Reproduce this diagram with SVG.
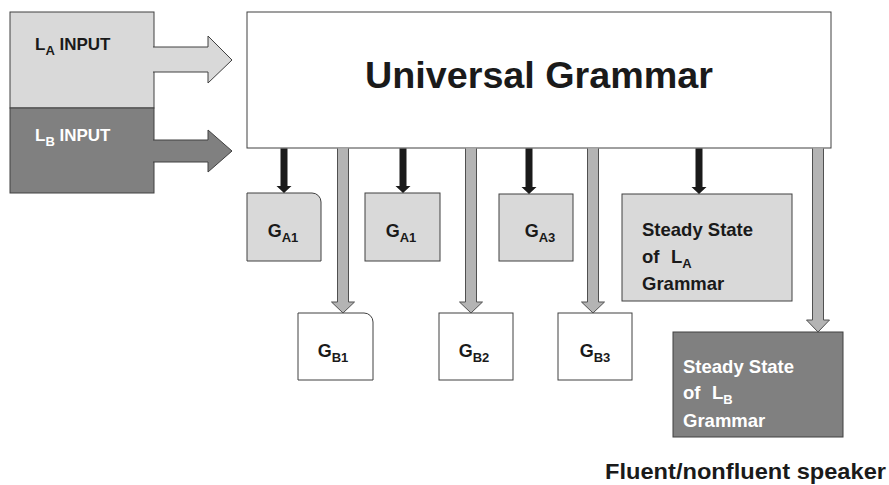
<svg xmlns="http://www.w3.org/2000/svg" width="889" height="485" viewBox="0 0 889 485">
<style>
text{font-family:"Liberation Sans",Arial,sans-serif;font-weight:bold;fill:#1a1a1a}
.w{fill:#ffffff}
.box{stroke:#404040;stroke-width:1}
.lt{fill:#d9d9d9}
.dk{fill:#808080}
.wh{fill:#ffffff}
.ga{fill:#b4b4b4;stroke:#505050;stroke-width:1}
.ba{fill:#1a1a1a}
.g{font-size:18px}
.sub{font-size:13px}
.ss{font-size:18.5px}
</style>
<rect width="889" height="485" fill="#ffffff"/>
<g id="la-input">
<rect class="box lt" x="10" y="12" width="144" height="96"/>
<text x="35" y="50" font-size="17">L<tspan class="sub" dy="5">A</tspan><tspan dy="-5"> INPUT</tspan></text>
</g>
<g id="lb-input">
<rect class="box dk" x="10" y="108" width="144" height="85"/>
<text class="w" x="35" y="141" font-size="17">L<tspan class="sub" dy="5">B</tspan><tspan dy="-5"> INPUT</tspan></text>
</g>
<g id="ug">
<rect class="box wh" x="247" y="12" width="584" height="136"/>
<text x="365" y="88" font-size="36" textLength="348" lengthAdjust="spacingAndGlyphs">Universal Grammar</text>
</g>
<g id="ga1a">
<path class="box lt" d="M247,193 H312 A9,9 0 0 1 321,202 V261 H247 Z"/>
<text class="g" x="283" y="237" text-anchor="middle">G<tspan class="sub" dy="5">A1</tspan></text>
</g>
<g id="ga1b">
<rect class="box lt" x="365" y="193" width="75" height="68"/>
<text class="g" x="401" y="237" text-anchor="middle">G<tspan class="sub" dy="5">A1</tspan></text>
</g>
<g id="ga3">
<rect class="box lt" x="499" y="194" width="74" height="67"/>
<text class="g" x="540" y="237" text-anchor="middle">G<tspan class="sub" dy="5">A3</tspan></text>
</g>
<g id="ssa">
<rect class="box lt" x="622" y="194" width="170" height="107"/>
<text class="ss" x="642" y="236">Steady State</text>
<text class="ss" x="642" y="263">of<tspan x="671">L</tspan><tspan class="sub" dy="5">A</tspan></text>
<text class="ss" x="642" y="290">Grammar</text>
</g>
<g id="gb1">
<path class="box wh" d="M298,313 H364 A9,9 0 0 1 373,322 V380 H298 Z"/>
<text class="g" x="333" y="357" text-anchor="middle">G<tspan class="sub" dy="5">B1</tspan></text>
</g>
<g id="gb2">
<rect class="box wh" x="439" y="313" width="74" height="67"/>
<text class="g" x="474" y="357" text-anchor="middle">G<tspan class="sub" dy="5">B2</tspan></text>
</g>
<g id="gb3">
<rect class="box wh" x="558" y="313" width="74" height="67"/>
<text class="g" x="595" y="357" text-anchor="middle">G<tspan class="sub" dy="5">B3</tspan></text>
</g>
<g id="ssb">
<rect class="box dk" x="673" y="332" width="170" height="105"/>
<text class="ss w" x="683" y="373">Steady State</text>
<text class="ss w" x="683" y="399">of<tspan x="712">L</tspan><tspan class="sub" dy="5">B</tspan></text>
<text class="ss w" x="683" y="427">Grammar</text>
</g>
<g id="connectors">
<path class="lt" stroke="#404040" d="M153,47 H208 V36 L232,60 L208,83 V72 H153"/>
<path class="dk" stroke="#404040" d="M153,140 H208 V130 L232,151 L208,172 V162 H153"/>
<path class="ba" d="M280.5,148.5 H287.5 V186 H291.5 L284,193 L276.5,186 H280.5 Z"/>
<path class="ba" d="M399.5,148.5 H406.5 V186 H410.5 L403,193 L395.5,186 H399.5 Z"/>
<path class="ba" d="M525.5,148.5 H532.5 V187 H536.5 L529,194 L521.5,187 H525.5 Z"/>
<path class="ba" d="M695.5,148.5 H702.5 V187 H706.5 L699,194 L691.5,187 H695.5 Z"/>
<path class="ga" d="M337.5,148.5 V302 H331.5 L343,313 L354.5,302 H348.5 V148.5"/>
<path class="ga" d="M465.5,148.5 V302 H459.5 L471,313 L482.5,302 H476.5 V148.5"/>
<path class="ga" d="M587.5,148.5 V302 H581.5 L593,313 L604.5,302 H598.5 V148.5"/>
<path class="ga" d="M812.5,148.5 V320 H806.5 L818,332 L829.5,320 H823.5 V148.5"/>
</g>
<text x="605" y="479" font-size="22" textLength="281" lengthAdjust="spacingAndGlyphs">Fluent/nonfluent speaker</text>
</svg>
